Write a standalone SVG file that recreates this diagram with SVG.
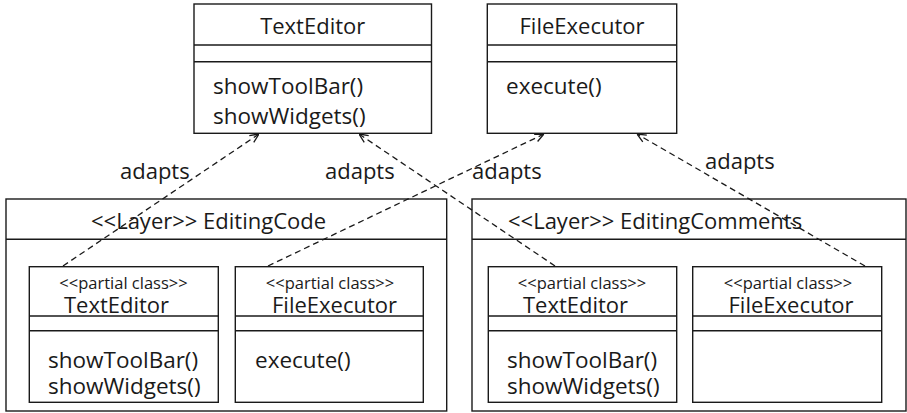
<svg xmlns="http://www.w3.org/2000/svg" width="907" height="413" viewBox="0 0 907 413">
<style>
.box{fill:#fff;stroke:#1a1a1a;stroke-width:1.4}
.ln{stroke:#1a1a1a;stroke-width:1.4}
.t{font-family:"Open Sans","Noto Sans",sans-serif;font-size:22px;fill:#1a1a1a}
.m{font-family:"Open Sans","Noto Sans",sans-serif;font-size:22.5px;fill:#1a1a1a}
.s{font-family:"Open Sans","Noto Sans",sans-serif;font-size:16.5px;fill:#1a1a1a}
.c{text-anchor:middle}
.dash{fill:none;stroke:#1a1a1a;stroke-width:1.3;stroke-dasharray:6,4}
</style>
<defs>
<marker id="open" viewBox="0 0 10 10" refX="10" refY="5" markerWidth="10" markerHeight="10" markerUnits="userSpaceOnUse" orient="auto">
<path d="M1,1 L10,5 L1,9" fill="none" stroke="#1a1a1a" stroke-width="1.3"/>
</marker>
</defs>
<rect width="907" height="413" fill="#fff"/>
<g id="TextEditor">
<rect class="box" x="194" y="4" width="237.5" height="129.3"/>
<line class="ln" x1="194" y1="45" x2="431.5" y2="45"/>
<line class="ln" x1="194" y1="61.7" x2="431.5" y2="61.7"/>
<text class="t c" x="312.7" y="34">TextEditor</text>
<text class="m" x="213" y="94">showToolBar()</text>
<text class="m" x="213" y="124">showWidgets()</text>
</g>
<g id="FileExecutor">
<rect class="box" x="487.3" y="4" width="189.4" height="129.3"/>
<line class="ln" x1="487.3" y1="45" x2="676.7" y2="45"/>
<line class="ln" x1="487.3" y1="61.7" x2="676.7" y2="61.7"/>
<text class="t c" x="582" y="34">FileExecutor</text>
<text class="m" x="506" y="94">execute()</text>
</g>
<g id="EditingCode">
<rect class="box" x="6" y="199" width="440.7" height="212"/>
<line class="ln" x1="6" y1="239.3" x2="446.7" y2="239.3"/>
<text class="t" x="91" y="229">&lt;&lt;Layer&gt;&gt; EditingCode</text>
</g>
<g id="EditingComments">
<rect class="box" x="472" y="199" width="434" height="212"/>
<line class="ln" x1="472" y1="239.3" x2="906" y2="239.3"/>
<text class="t" x="508" y="229">&lt;&lt;Layer&gt;&gt; EditingComments</text>
</g>
<g id="PartialTextEditorCode">
<rect class="box" x="29.3" y="266.7" width="189" height="135.6"/>
<line class="ln" x1="29.3" y1="316" x2="218.3" y2="316"/>
<line class="ln" x1="29.3" y1="330.7" x2="218.3" y2="330.7"/>
<text class="s c" x="123.5" y="289">&lt;&lt;partial class&gt;&gt;</text>
<text class="t c" x="116.5" y="312.7">TextEditor</text>
<text class="m" x="48" y="368">showToolBar()</text>
<text class="m" x="48" y="394">showWidgets()</text>
</g>
<g id="PartialFileExecutorCode">
<rect class="box" x="235.3" y="266.7" width="188" height="135.6"/>
<line class="ln" x1="235.3" y1="316" x2="423.3" y2="316"/>
<line class="ln" x1="235.3" y1="330.7" x2="423.3" y2="330.7"/>
<text class="s c" x="330" y="289">&lt;&lt;partial class&gt;&gt;</text>
<text class="t c" x="334.5" y="312.7">FileExecutor</text>
<text class="m" x="255" y="368">execute()</text>
</g>
<g id="PartialTextEditorComments">
<rect class="box" x="488.3" y="266.7" width="188.4" height="135.6"/>
<line class="ln" x1="488.3" y1="316" x2="676.7" y2="316"/>
<line class="ln" x1="488.3" y1="330.7" x2="676.7" y2="330.7"/>
<text class="s c" x="582" y="289">&lt;&lt;partial class&gt;&gt;</text>
<text class="t c" x="575.5" y="312.7">TextEditor</text>
<text class="m" x="507" y="368">showToolBar()</text>
<text class="m" x="507" y="394">showWidgets()</text>
</g>
<g id="PartialFileExecutorComments">
<rect class="box" x="692.7" y="266.7" width="189" height="135.6"/>
<line class="ln" x1="692.7" y1="316" x2="881.7" y2="316"/>
<line class="ln" x1="692.7" y1="330.7" x2="881.7" y2="330.7"/>
<text class="s c" x="788" y="289">&lt;&lt;partial class&gt;&gt;</text>
<text class="t c" x="791" y="312.7">FileExecutor</text>
</g>
<g id="connectors">
<path class="dash" d="M63,266 L259,134" marker-end="url(#open)"/>
<path class="dash" d="M268,266 L544,134" marker-end="url(#open)"/>
<path class="dash" d="M555,266 L359,134" marker-end="url(#open)"/>
<path class="dash" d="M865,266 L637,134" marker-end="url(#open)"/>
<text class="t" x="120" y="179">adapts</text>
<text class="t" x="325" y="179">adapts</text>
<text class="t" x="472" y="179">adapts</text>
<text class="t" x="705" y="169">adapts</text>
</g>
</svg>
